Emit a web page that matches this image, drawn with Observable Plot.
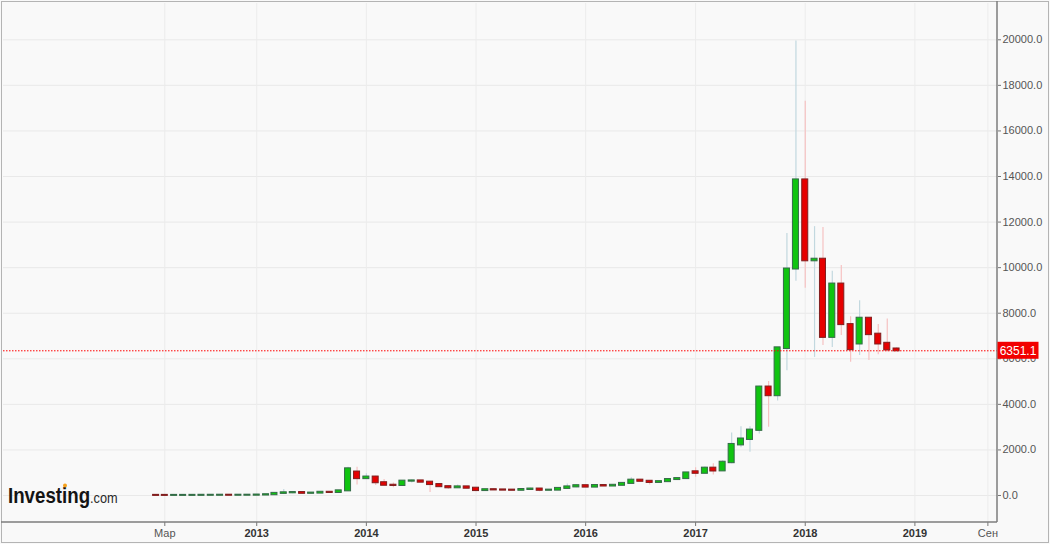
<!DOCTYPE html>
<html><head><meta charset="utf-8">
<script src="https://cdn.jsdelivr.net/npm/d3@7"></script>
<script src="https://cdn.jsdelivr.net/npm/@observablehq/plot@0.6"></script>
<style>
html,body{margin:0;padding:0;background:#f9f9f9;}
#chart svg{display:block;}
</style></head><body><div id="chart"></div>
<script>
// ---- data (monthly BTC/USD candles) ----
const months = [
  "2012-02","2012-03","2012-04","2012-05","2012-06","2012-07","2012-08","2012-09","2012-10","2012-11","2012-12",
  "2013-01","2013-02","2013-03","2013-04","2013-05","2013-06","2013-07","2013-08","2013-09","2013-10","2013-11","2013-12",
  "2014-01","2014-02","2014-03","2014-04","2014-05","2014-06","2014-07","2014-08","2014-09","2014-10","2014-11","2014-12",
  "2015-01","2015-02","2015-03","2015-04","2015-05","2015-06","2015-07","2015-08","2015-09","2015-10","2015-11","2015-12",
  "2016-01","2016-02","2016-03","2016-04","2016-05","2016-06","2016-07","2016-08","2016-09","2016-10","2016-11","2016-12",
  "2017-01","2017-02","2017-03","2017-04","2017-05","2017-06","2017-07","2017-08","2017-09","2017-10","2017-11","2017-12",
  "2018-01","2018-02","2018-03","2018-04","2018-05","2018-06","2018-07","2018-08","2018-09","2018-10","2018-11"
];
const opens = [
  5.5, 4.9, 4.87, 4.95, 5.15, 6.7, 9.35, 10.1, 12.4, 11.2, 12.6,
  13.5, 20.4, 33.4, 93, 118, 129, 97, 106, 141, 133, 204, 1030,
  740, 810, 560, 450, 440, 630, 640, 585, 480, 387, 338, 378,
  320, 217, 254, 244, 236, 230, 263, 284, 230, 236, 311, 377,
  430, 369, 437, 416, 448, 531, 673, 624, 573, 608, 700, 742,
  1040, 975, 1200, 1080, 1440, 2220, 2460, 2860, 4760, 4380, 6450, 9940,
  13850, 10300, 10370, 6940, 9280, 7500, 6650, 7780, 7080, 6680, 6430
];
const highs = [
  6.4, 5.4, 5.3, 5.2, 6.8, 9.7, 15.4, 12.9, 12.5, 12.8, 13.9,
  20.7, 33.6, 95.7, 266, 140, 130, 110, 141, 145, 215, 1242, 1240,
  960, 850, 700, 550, 630, 680, 650, 600, 500, 415, 460, 390,
  320, 265, 300, 260, 248, 267, 315, 287, 245, 330, 500, 465,
  464, 443, 440, 468, 552, 780, 705, 625, 635, 720, 755, 1000,
  1215, 1250, 1390, 1530, 2740, 3020, 3020, 4800, 5000, 6500, 11500, 19950,
  17300, 11800, 11760, 9840, 10090, 7850, 8550, 7800, 7500, 7750, 6480
];
const lows = [
  4.3, 4.6, 4.7, 4.9, 5.2, 6.4, 7.1, 9.9, 10.3, 10.5, 12.5,
  13.2, 19.2, 33.2, 50, 79, 65, 66, 101, 110, 120, 196, 460,
  730, 440, 440, 340, 420, 550, 565, 130, 360, 275, 320, 300,
  160, 212, 236, 215, 225, 218, 253, 162, 225, 235, 300, 345,
  354, 365, 395, 414, 443, 525, 605, 465, 570, 605, 684, 740,
  800, 940, 900, 1070, 1390, 2100, 1900, 2700, 3000, 4150, 5480, 9400,
  9100, 6060, 6580, 6500, 7020, 5850, 6140, 5920, 6180, 6300, 6330
];
const closes = [
  4.9, 4.87, 4.95, 5.15, 6.7, 9.35, 10.1, 12.4, 11.2, 12.6, 13.5,
  20.4, 33.4, 93, 118, 129, 97, 106, 141, 133, 204, 1170, 740,
  810, 560, 450, 440, 630, 640, 585, 480, 387, 338, 378, 320,
  217, 254, 244, 236, 230, 263, 284, 230, 236, 311, 377, 430,
  369, 437, 416, 448, 531, 673, 624, 573, 608, 700, 742, 990,
  975, 1200, 1075, 1460, 2240, 2480, 2870, 4760, 4380, 6480, 9940, 13850,
  10300, 10370, 6940, 9280, 7500, 6400, 7780, 7060, 6650, 6390, 6351.1
];
const currentPrice = 6351.1;
const yTicks = [0, 2000, 4000, 6000, 8000, 10000, 12000, 14000, 16000, 18000, 20000];
const xTickDates = ["2012-03-01","2013-01-01","2014-01-01","2015-01-01","2016-01-01","2017-01-01","2018-01-01","2019-01-01","2019-09-01"];
const xTickLabels = ["Мар","2013","2014","2015","2016","2017","2018","2019","Сен"];
const xDomain = ["2010-09-11", "2019-10-03"];
const yDomain = [-1185, 21593];

// ---- build table ----
const parseM = d3.utcParse("%Y-%m");
const parseD = d3.utcParse("%Y-%m-%d");
const candles = months.map((m, i) => ({
  date: parseM(m), open: opens[i], high: highs[i], low: lows[i], close: closes[i],
  up: closes[i] >= opens[i]
}));
const ticks = xTickDates.map((d, i) => ({date: parseD(d), label: xTickLabels[i], year: /^\d{4}$/.test(xTickLabels[i])}));
const labelByTime = new Map(ticks.map(t => [+t.date, t.label]));
const yearTicks = ticks.filter(t => t.year).map(t => t.date);
const monthTicks = ticks.filter(t => !t.year).map(t => t.date);

const FONT = "'Liberation Sans', Arial, sans-serif";

function decorations(index, scales, values, dims) {
  const {width, height, marginRight, marginBottom} = dims;
  const right = width - marginRight, bottom = height - marginBottom;
  const g = d3.create("svg:g").attr("text-anchor", "start");
  g.append("rect").attr("x", 1.5).attr("y", 1.5).attr("width", width - 3).attr("height", height - 3)
    .attr("fill", "none").attr("stroke", "#b4b4b4");
  g.append("line").attr("x1", right).attr("x2", right).attr("y1", 1).attr("y2", bottom)
    .attr("stroke", "#7c7c7c").attr("stroke-width", 1.5);
  g.append("line").attr("x1", 1).attr("x2", right).attr("y1", bottom).attr("y2", bottom)
    .attr("stroke", "#7c7c7c").attr("stroke-width", 1.5);
  // current price label
  const py = scales.y(currentPrice);
  g.append("rect").attr("x", right + 0.5).attr("y", py - 8.5).attr("width", 41).attr("height", 17).attr("fill", "#f20000");
  g.append("text").attr("x", right + 21).attr("y", py).attr("dy", "0.36em").attr("text-anchor", "middle")
    .attr("fill", "#fff").attr("font-size", 12).attr("font-family", FONT).text(currentPrice.toFixed(1));
  // logo (one text, condensed)
  const logo = g.append("g").attr("transform", "translate(8,503) scale(0.85,1)")
    .attr("font-family", FONT).attr("text-anchor", "start");
  const t = logo.append("text").attr("x", 0).attr("y", 0);
  t.append("tspan").attr("font-size", 22).attr("font-weight", "bold").attr("fill", "#141414").text("Investing");
  t.append("tspan").attr("font-size", 15).attr("fill", "#2a2a2a").text(".com");
  g.append("circle").attr("cx", 65).attr("cy", 485.5).attr("r", 2).attr("fill", "#f5a11b");
  return g.node();
}

const chart = Plot.plot({
  width: 1050, height: 544,
  marginLeft: 3, marginRight: 53, marginTop: 3, marginBottom: 22,
  style: {background: "#f9f9f9", fontFamily: FONT, fontSize: "11px"},
  x: {type: "utc", domain: xDomain.map(parseD), axis: null},
  y: {domain: yDomain, axis: null},
  color: {type: "identity"},
  marks: [
    Plot.gridY(yTicks, {stroke: "#e9e9e9", strokeOpacity: 1}),
    Plot.gridX(ticks.map(t => t.date), {stroke: "#ececec", strokeOpacity: 1}),
    Plot.axisY(yTicks, {anchor: "right", tickSize: 3, tickPadding: 2, tickFormat: d => d.toFixed(1),
      stroke: "#777", fill: "#555", fontSize: 11}),
    Plot.axisX(monthTicks, {anchor: "bottom", tickSize: 4, tickPadding: 3, tickFormat: d => labelByTime.get(+d),
      stroke: "#777", fill: "#555", fontSize: 11}),
    Plot.axisX(yearTicks, {anchor: "bottom", tickSize: 4, tickPadding: 3, tickFormat: d => labelByTime.get(+d),
      stroke: "#777", fill: "#333", fontSize: 11, fontWeight: "bold"}),
    Plot.ruleX(candles, {x: "date", y1: "low", y2: "high", stroke: d => d.up ? "#c2d8df" : "#f6c2c2", strokeWidth: 1.2}),
    Plot.rect(candles, {
      x1: d => d3.utcDay.offset(d.date, -10), x2: d => d3.utcDay.offset(d.date, 10),
      y1: d => Math.min(d.open, d.close), y2: d => Math.max(d.open, d.close),
      fill: d => d.up ? "#10c410" : "#e60000", stroke: d => d.up ? "#346b48" : "#7f1e1e",
      strokeWidth: 1, insetTop: -0.5, insetBottom: -0.5
    }),
    Plot.ruleY([currentPrice], {stroke: "#ff0000", strokeDasharray: "1.5,1.5", strokeWidth: 1}),
    decorations
  ]
});
document.getElementById("chart").append(chart);
</script></body></html>
